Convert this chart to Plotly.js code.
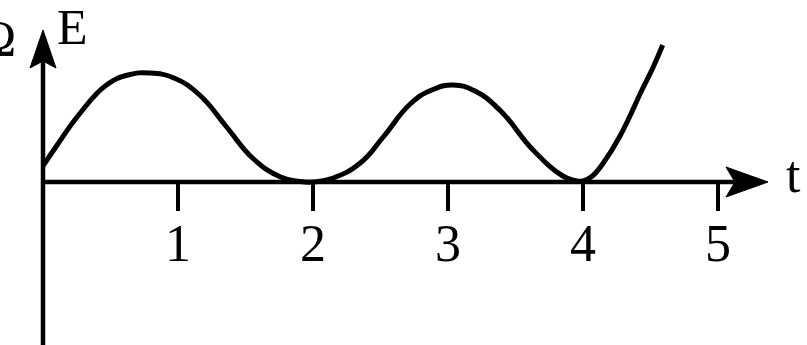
<!DOCTYPE html>
<html>
<head>
<meta charset="utf-8">
<script src="https://cdn.plot.ly/plotly-3.0.1.min.js"></script>
<style>html,body{margin:0;padding:0;background:#fff;}#chart{width:807px;height:345px;}</style>
</head>
<body>
<div id="chart"></div>
<script>
// Curve E(t) (E in arbitrary units)
const tValues = [0, 0.1, 0.27, 0.47, 0.63, 0.79, 0.97, 1.16, 1.36, 1.56, 1.76, 1.9, 2.0, 2.15, 2.35, 2.52, 2.72, 2.88, 3.04, 3.2, 3.39, 3.63, 3.85, 3.94, 4.0, 4.07, 4.15, 4.27, 4.44, 4.52, 4.59];
const eValues = [0.16, 0.36, 0.68, 0.97, 1.07, 1.09, 1.04, 0.87, 0.55, 0.23, 0.05, 0.006, 0.0, 0.04, 0.19, 0.45, 0.78, 0.92, 0.97, 0.91, 0.71, 0.32, 0.06, 0.015, 0.01, 0.06, 0.19, 0.45, 0.93, 1.15, 1.37];
const tickValues = [1, 2, 3, 4, 5];
const tickLabels = ["1", "2", "3", "4", "5"];
const yAxisLabel = "E";
const xAxisLabel = "t";
const partialLabel = "Ω";

const xRange = [-0.3185, 5.659];
const yRange = [-1.63, 1.82];
const yTip = 1.52;   // top of E arrow
const xTip = 5.37;   // right end of t arrow
const lw = 4.5;

const trace = {
  x: tValues, y: eValues, type: 'scatter', mode: 'lines',
  line: {color: '#000', width: 5, shape: 'spline', smoothing: 1.3},
  hoverinfo: 'skip', cliponaxis: false
};

const serif = '"Liberation Serif", "DejaVu Serif", serif';

const layout = {
  width: 807, height: 345,
  margin: {l: 0, r: 0, t: 0, b: 0},
  paper_bgcolor: '#fff', plot_bgcolor: '#fff',
  showlegend: false,
  xaxis: {
    range: xRange, showgrid: false, zeroline: false, showline: false,
    tickvals: tickValues, ticktext: tickLabels,
    ticks: 'outside', ticklen: 28, tickwidth: 4.5, tickcolor: '#000',
    tickfont: {family: serif, size: 52, color: '#000'},
    anchor: 'free', position: (0 - yRange[0]) / (yRange[1] - yRange[0]),
    ticklabelstandoff: -12,
    fixedrange: true
  },
  yaxis: {
    range: yRange, showgrid: false, zeroline: false, showline: false,
    showticklabels: false, ticks: '', fixedrange: true
  },
  shapes: [
    {type: 'line', xref: 'x', yref: 'y', x0: 0, x1: 0, y0: yRange[0] - 0.1, y1: yTip - 0.3,
     line: {color: '#000', width: lw}},
    {type: 'line', xref: 'x', yref: 'y', x0: 0, x1: xTip - 0.25, y0: 0, y1: 0,
     line: {color: '#000', width: lw}},
    {type: 'path', xref: 'x', yref: 'y', xsizemode: 'pixel', ysizemode: 'pixel',
     xanchor: 0, yanchor: yTip,
     path: 'M 0 0 L 13 -38 L 0 -31 L -13 -38 Z',
     fillcolor: '#000', line: {color: '#000', width: 1}},
    {type: 'path', xref: 'x', yref: 'y', xsizemode: 'pixel', ysizemode: 'pixel',
     xanchor: xTip, yanchor: 0,
     path: 'M 0 0 L -42 15 L -33 0 L -42 -15 Z',
     fillcolor: '#000', line: {color: '#000', width: 1}}
  ],
  annotations: [
    {text: yAxisLabel, xref: 'paper', yref: 'paper', x: 72 / 807, y: 1 - 27 / 345,
     xanchor: 'center', yanchor: 'middle', showarrow: false,
     font: {family: serif, size: 50, color: '#000'}},
    {text: xAxisLabel, xref: 'paper', yref: 'paper', x: 793 / 807, y: 1 - 174 / 345,
     xanchor: 'center', yanchor: 'middle', showarrow: false,
     font: {family: serif, size: 52, color: '#000'}},
    {text: partialLabel, xref: 'paper', yref: 'paper', x: 18 / 807, y: 1 - 38 / 345,
     xanchor: 'right', yanchor: 'middle', showarrow: false,
     font: {family: serif, size: 50, color: '#000'}}
  ]
};

Plotly.newPlot('chart', [trace], layout, {staticPlot: true, displayModeBar: false});
</script>
</body>
</html>
